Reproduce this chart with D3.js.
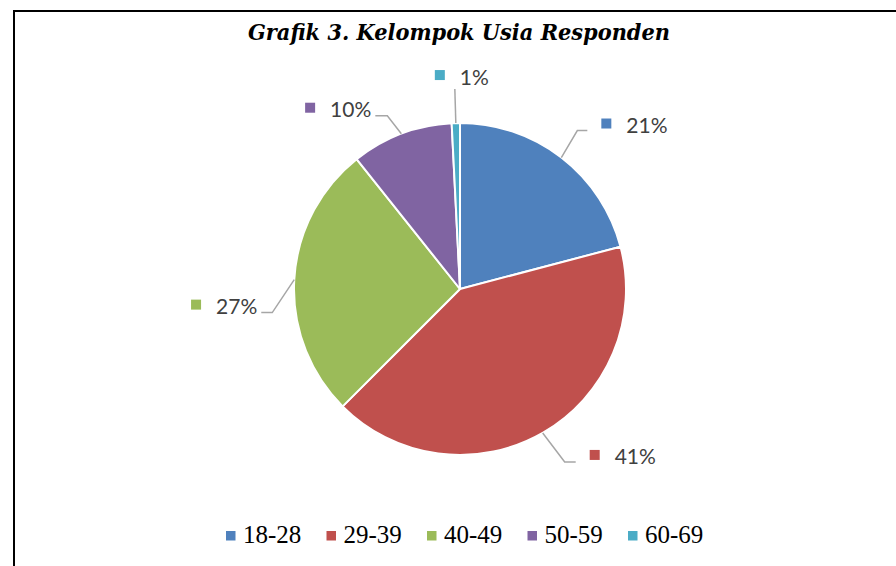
<!DOCTYPE html>
<html>
<head>
<meta charset="utf-8">
<script src="https://cdn.jsdelivr.net/npm/d3@7"></script>
<style>
  html, body { margin: 0; padding: 0; background: #fff; }
  svg { display: block; }
</style>
</head>
<body>
<svg id="chart" width="896" height="566"></svg>
<script>
// ---- data ----
const titleText = "Grafik 3. Kelompok Usia Responden";
const categories = ["18-28", "29-39", "40-49", "50-59", "60-69"];
const shares = [20.9, 41.6, 26.8, 9.9, 0.8];
const shareLabels = ["21%", "41%", "27%", "10%", "1%"];
const colors = ["#4F81BD", "#C0504D", "#9BBB59", "#8064A2", "#4BACC6"];

// ---- layout ----
const W = 896, H = 566;
const cx = 460, cy = 289, R = 166;
// leader line layout: elbow offset from the slice edge, horizontal run, label placement
const leaderLayout = [
  { ox: 16, oy: -27, run: 10, side: "right" },
  { ox: 22, oy: 29, run: 11, side: "right" },
  { ox: -22, oy: 33, run: -11, side: "left" },
  { ox: -14, oy: -18, run: -12, side: "left" },
  { ox: -1, oy: -34, run: 0, side: "top" }
];

const svg = d3.select("#chart");

// border
svg.append("rect")
  .attr("x", 14).attr("y", 11)
  .attr("width", 1000).attr("height", 1000)
  .attr("fill", "none").attr("stroke", "#000").attr("stroke-width", 2);

// title
svg.append("text")
  .attr("x", 248).attr("y", 40)
  .attr("font-family", "'DejaVu Serif', 'Liberation Serif', serif")
  .attr("font-style", "italic").attr("font-weight", "bold")
  .attr("font-size", 22.5)
  .attr("textLength", 422)
  .attr("lengthAdjust", "spacingAndGlyphs")
  .attr("fill", "#000")
  .text(titleText);

const pie = d3.pie().sort(null).value(d => d)
  .startAngle(0).endAngle(2 * Math.PI);
const arcs = pie(shares);
const arc = d3.arc().innerRadius(0).outerRadius(R);

const g = svg.append("g").attr("transform", `translate(${cx},${cy})`);
g.selectAll("path.slice").data(arcs).enter().append("path")
  .attr("class", "slice")
  .attr("d", arc)
  .attr("fill", (d, i) => colors[i])
  .attr("stroke", "#fff").attr("stroke-width", 2)
  .attr("stroke-linejoin", "round");

// leader lines + labels
const labelFont = "Lato, 'Open Sans', 'Liberation Sans', sans-serif";
arcs.forEach((a, i) => {
  const mid = (a.startAngle + a.endAngle) / 2;
  const ex = cx + R * Math.sin(mid), ey = cy - R * Math.cos(mid);
  const L = leaderLayout[i];
  const bx = ex + L.ox, by = ey + L.oy;
  const endX = bx + L.run, endY = by;
  svg.append("polyline")
    .attr("points", [[ex, ey], [bx, by], [endX, endY]].map(p => p.join(",")).join(" "))
    .attr("fill", "none").attr("stroke", "#A6A6A6").attr("stroke-width", 1.5);

  const lg = svg.append("g");
  const t = lg.append("text")
    .attr("font-family", labelFont).attr("font-size", 21)
    .attr("fill", "#404040")
    .attr("dominant-baseline", "central")
    .text(shareLabels[i]);
  const tw = t.node().getComputedTextLength();
  let sqX, cyL;
  if (L.side === "right") {
    sqX = endX + 14; cyL = endY - 7;
  } else if (L.side === "left") {
    sqX = endX - 4 - tw - 25; cyL = endY - 8;
  } else {
    sqX = endX - 20; cyL = endY - 14;
  }
  lg.insert("rect", "text")
    .attr("x", sqX).attr("y", cyL - 5)
    .attr("width", 10).attr("height", 10)
    .attr("fill", colors[i]);
  t.attr("x", sqX + 25).attr("y", cyL + 1);
});

// legend
const legendX0 = 226, legendStep = 100.5, legendY = 536;
const leg = svg.append("g");
categories.forEach((c, i) => {
  const x = legendX0 + i * legendStep;
  leg.append("rect")
    .attr("x", x).attr("y", legendY - 5)
    .attr("width", 9.5).attr("height", 9.5)
    .attr("fill", colors[i]);
  leg.append("text")
    .attr("x", x + 17).attr("y", 543)
    .attr("font-family", "'Liberation Serif', 'DejaVu Serif', serif")
    .attr("font-size", 25)
    .attr("fill", "#000")
    .text(c);
});
</script>
</body>
</html>
